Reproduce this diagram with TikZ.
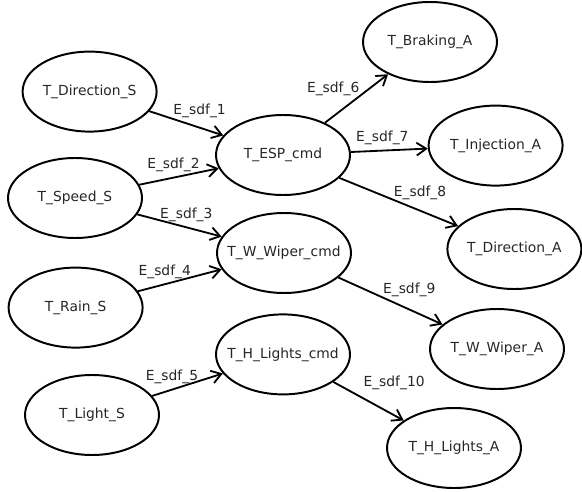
\documentclass[tikz,border=0pt]{standalone}
\usepackage{fontspec}
\setmainfont{DejaVu Sans}
\usetikzlibrary{shapes, arrows.meta, positioning}

\begin{document}
\begin{tikzpicture}
\useasboundingbox (0,0) rectangle (14.55,-12.3);

\begin{scope}[every node/.style={shape=ellipse,
    draw, line width=1.4pt, align=center,
    minimum width=3.35cm, minimum height=2cm, inner xsep=-6mm,
    font=\fontsize{9.85}{12}\selectfont, text=black!85}]
    \node (a) at (2.24,-2.29) {T\_Direction\_S};
    \node (b) at (1.875,-4.95) {T\_Speed\_S};
    \node (c) at (1.89,-7.69) {T\_Rain\_S};
    \node (d) at (2.3,-10.375) {T\_Light\_S};
    \node (e) at (7.075,-3.875) {T\_ESP\_cmd};
    \node (f) at (7.1,-6.325) {T\_W\_Wiper\_cmd};
    \node (g) at (7.075,-8.86) {T\_H\_Lights\_cmd};
    \node (h) at (10.75,-1.05) {T\_Braking\_A};
    \node (i) at (12.39,-3.64) {T\_Injection\_A};
    \node (j) at (12.86,-6.225) {T\_Direction\_A};
    \node (k) at (12.425,-8.725) {T\_W\_Wiper\_A};
    \node (l) at (11.35,-11.2) {T\_H\_Lights\_A};
\end{scope}

\begin{scope}[
              every node/.style={fill=none, text=black!85, font=\fontsize{9.85}{12}\selectfont},
              every edge/.style={-{Straight Barb[length=2.4mm,width=3.2mm]}, draw, line width=1.3pt}
              ]
    \path (a) edge node[above=3pt, pos=.68] {E\_sdf\_1} (e);
    \path (b) edge node[above, pos=.43] {E\_sdf\_2} (e);
    \path (b) edge node[above, pos=.58] {E\_sdf\_3} (f);
    \path (c) edge node[above, pos=.32] {E\_sdf\_4} (f);
    \path (d) edge node[above, pos=.28] {E\_sdf\_5} (g);
    \path (e) edge node[left=3pt, pos=.7] {E\_sdf\_6} (h);
    \path (e) edge node[above, pos=.41] {E\_sdf\_7} (i);
    \path (e) edge node[above=4pt, pos=.68] {E\_sdf\_8} (j);
    \path (f) edge node[above=5pt, pos=.68] {E\_sdf\_9} (k);
    \path (g) edge node[above right, pos=.35] {E\_sdf\_10} (l);
\end{scope}
\end{tikzpicture}
\end{document}
